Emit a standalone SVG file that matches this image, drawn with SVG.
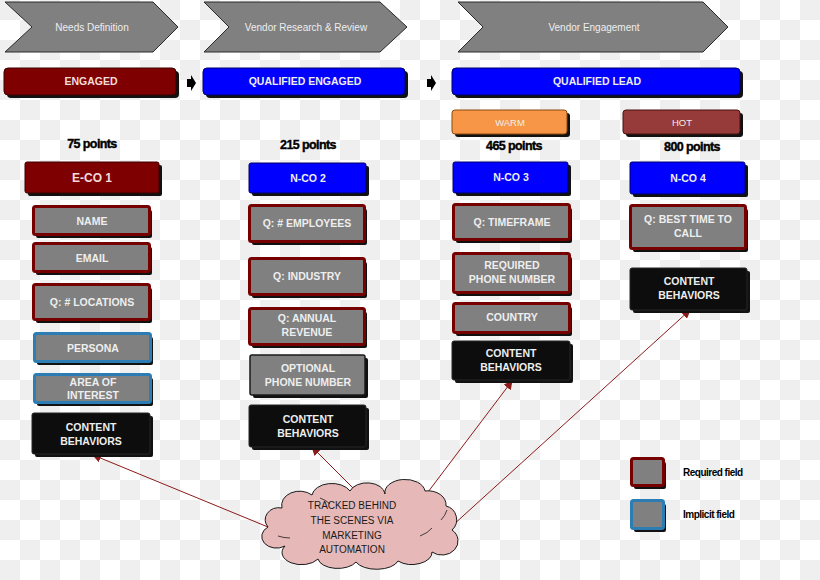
<svg xmlns="http://www.w3.org/2000/svg" width="820" height="580" viewBox="0 0 820 580">
<defs>
<pattern id="chk" width="40" height="40" patternUnits="userSpaceOnUse">
<rect width="40" height="40" fill="#ffffff"/>
<rect width="20" height="20" fill="#efefef"/>
<rect x="20" y="20" width="20" height="20" fill="#efefef"/>
</pattern>
<marker id="ah" viewBox="0 0 10 10" refX="9" refY="5" markerWidth="9" markerHeight="9" orient="auto" markerUnits="userSpaceOnUse">
<path d="M0,0 L10,5 L0,10 Z" fill="#8b1a1a"/>
</marker>
<style>
.chev{fill:#808080;stroke:#2a2a2a;stroke-width:1}
.ct{font-family:"Liberation Sans",Arial,sans-serif;font-size:10px;fill:#eeeeee;text-anchor:middle}
.sh{fill:#111111}
.lbl{font-family:"Liberation Sans",Arial,sans-serif;font-size:10.5px;font-weight:bold;fill:#eeeeee;text-anchor:middle}
.pts{font-family:"Liberation Sans",Arial,sans-serif;font-size:12.5px;font-weight:bold;fill:#000;text-anchor:middle;letter-spacing:-0.6px;stroke:#000;stroke-width:0.4px}
.req{fill:#808080;stroke:#760000;stroke-width:3}
.imp{fill:#808080;stroke:#2b7db3;stroke-width:3}
.opt{fill:#808080;stroke:#1a1a1a;stroke-width:1.5}
.cb{fill:#0d0d0d;stroke:#262626;stroke-width:1}
.mar{fill:#7f0000;stroke:#3a0000;stroke-width:1}
.blu{fill:#0000ff;stroke:#000066;stroke-width:1}
.con{stroke:#8b1a1a;stroke-width:1;fill:none;marker-end:url(#ah)}
.leg{font-family:"Liberation Sans",Arial,sans-serif;font-size:10px;font-weight:bold;fill:#000;letter-spacing:-0.5px}
.cl{font-family:"Liberation Sans",Arial,sans-serif;font-size:10px;fill:#1a1a1a;text-anchor:middle}
</style>
</defs>
<rect width="820" height="580" fill="url(#chk)"/>

<g id="stage-needs">
<path class="chev" d="M5,2 L153,2 L178,27 L153,52 L5,52 L32,27 Z"/>
<text class="ct" x="92" y="31">Needs Definition</text>
</g>
<g id="stage-research">
<path class="chev" d="M204,2 L380,2 L407,27 L380,52 L204,52 L229,27 Z"/>
<text class="ct" x="306" y="31">Vendor Research &amp; Review</text>
</g>
<g id="stage-engagement">
<path class="chev" d="M458,2 L703,2 L728,27 L703,52 L458,52 L483,27 Z"/>
<text class="ct" x="594" y="31">Vendor Engagement</text>
</g>

<g id="bar-engaged">
<rect class="sh" x="7" y="71" width="172" height="27" rx="4"/>
<rect class="mar" x="4" y="68" width="172" height="27" rx="4"/>
<text class="lbl" x="91" y="85" style="fill:#f2dcdb">ENGAGED</text>
</g>
<g id="bar-qualified-engaged">
<rect class="sh" x="206" y="71" width="202" height="27" rx="4"/>
<rect class="blu" x="203" y="68" width="202" height="27" rx="4"/>
<text class="lbl" x="305" y="85">QUALIFIED ENGAGED</text>
</g>
<g id="bar-qualified-lead">
<rect class="sh" x="455" y="71" width="288" height="27" rx="4"/>
<rect class="blu" x="452" y="68" width="288" height="27" rx="4"/>
<text class="lbl" x="597" y="85">QUALIFIED LEAD</text>
</g>

<g id="connectors">
<path d="M187,79 H191 V75 L196,83 L191,91 V87 H187 Z" fill="#000"/>
<path d="M427,79 H431 V75 L436,83 L431,91 V87 H427 Z" fill="#000"/>
<line class="con" x1="268" y1="527" x2="93" y2="455"/>
<line class="con" x1="357" y1="492" x2="312" y2="447"/>
<line class="con" x1="428" y1="492" x2="512" y2="381"/>
<line class="con" x1="452" y1="526" x2="690" y2="310"/>
</g>

<g id="col1">
<text class="pts" x="92" y="148">75 points</text>
<g id="eco1"><rect class="sh" x="28" y="165" width="134" height="31" rx="2"/><rect class="mar" x="25" y="162" width="134" height="31" rx="2"/><text class="lbl" x="92" y="182" style="font-size:12px;fill:#f2dcdb">E-CO 1</text></g>
<g id="name"><rect class="sh" x="36" y="210" width="116" height="28" rx="2"/><rect class="req" x="33.5" y="206.5" width="116" height="28" rx="2"/><text class="lbl" x="92" y="225">NAME</text></g>
<g id="email"><rect class="sh" x="36" y="247" width="116" height="28" rx="2"/><rect class="req" x="33.5" y="243.5" width="116" height="28" rx="2"/><text class="lbl" x="92" y="262">EMAIL</text></g>
<g id="locations"><rect class="sh" x="36" y="288" width="116" height="35" rx="2"/><rect class="req" x="33.5" y="284.5" width="116" height="35" rx="2"/><text class="lbl" x="92" y="306">Q: # LOCATIONS</text></g>
<g id="persona"><rect class="sh" x="37" y="337" width="116" height="28" rx="2"/><rect class="imp" x="34.5" y="333.5" width="116" height="28" rx="2"/><text class="lbl" x="93" y="352">PERSONA</text></g>
<g id="area"><rect class="sh" x="37" y="378" width="116" height="28" rx="2"/><rect class="imp" x="34.5" y="374.5" width="116" height="28" rx="2"/><text class="lbl" x="93" y="386">AREA OF</text><text class="lbl" x="93" y="399">INTEREST</text></g>
<g id="cb1"><rect class="sh" x="35" y="416" width="118" height="41" rx="2"/><rect class="cb" x="32" y="413" width="118" height="41" rx="2"/><text class="lbl" x="91" y="431">CONTENT</text><text class="lbl" x="91" y="445">BEHAVIORS</text></g>
</g>

<g id="col2">
<text class="pts" x="308" y="149">215 points</text>
<g id="nco2"><rect class="sh" x="252" y="166" width="117" height="30" rx="2"/><rect class="blu" x="249" y="163" width="117" height="30" rx="2"/><text class="lbl" x="308" y="182">N-CO 2</text></g>
<g id="employees"><rect class="sh" x="252" y="209" width="115" height="36" rx="2"/><rect class="req" x="249.5" y="205.5" width="115" height="36" rx="2"/><text class="lbl" x="307" y="227">Q: # EMPLOYEES</text></g>
<g id="industry"><rect class="sh" x="252" y="262" width="115" height="36" rx="2"/><rect class="req" x="249.5" y="258.5" width="115" height="36" rx="2"/><text class="lbl" x="307" y="280">Q: INDUSTRY</text></g>
<g id="revenue"><rect class="sh" x="252" y="312" width="115" height="36" rx="2"/><rect class="req" x="249.5" y="308.5" width="115" height="36" rx="2"/><text class="lbl" x="307" y="322">Q: ANNUAL</text><text class="lbl" x="307" y="336">REVENUE</text></g>
<g id="optphone"><rect class="sh" x="253" y="358" width="115" height="40" rx="2"/><rect class="opt" x="250" y="355" width="115" height="40" rx="2"/><text class="lbl" x="308" y="372">OPTIONAL</text><text class="lbl" x="308" y="386">PHONE NUMBER</text></g>
<g id="cb2"><rect class="sh" x="252" y="408" width="117" height="42" rx="2"/><rect class="cb" x="249" y="405" width="117" height="42" rx="2"/><text class="lbl" x="308" y="423">CONTENT</text><text class="lbl" x="308" y="437">BEHAVIORS</text></g>
</g>

<g id="col3">
<g id="warm"><rect class="sh" x="455" y="113" width="115" height="24" rx="3"/><rect x="452" y="110" width="115" height="24" rx="3" fill="#f79646" stroke="#8a4a10" stroke-width="1"/><text class="lbl" x="510" y="126" style="font-size:9.5px;font-weight:normal">WARM</text></g>
<text class="pts" x="514" y="150">465 points</text>
<g id="nco3"><rect class="sh" x="456" y="165" width="115" height="31" rx="2"/><rect class="blu" x="453" y="162" width="115" height="31" rx="2"/><text class="lbl" x="511" y="181">N-CO 3</text></g>
<g id="timeframe"><rect class="sh" x="456" y="208" width="116" height="35" rx="2"/><rect class="req" x="453.5" y="204.5" width="116" height="35" rx="2"/><text class="lbl" x="512" y="226">Q: TIMEFRAME</text></g>
<g id="reqphone"><rect class="sh" x="456" y="257" width="116" height="39" rx="2"/><rect class="req" x="453.5" y="253.5" width="116" height="39" rx="2"/><text class="lbl" x="512" y="269">REQUIRED</text><text class="lbl" x="512" y="283">PHONE NUMBER</text></g>
<g id="country"><rect class="sh" x="456" y="307" width="116" height="29" rx="2"/><rect class="req" x="453.5" y="303.5" width="116" height="29" rx="2"/><text class="lbl" x="512" y="321">COUNTRY</text></g>
<g id="cb3"><rect class="sh" x="455" y="344" width="118" height="39" rx="2"/><rect class="cb" x="452" y="341" width="118" height="39" rx="2"/><text class="lbl" x="511" y="357">CONTENT</text><text class="lbl" x="511" y="371">BEHAVIORS</text></g>
</g>

<g id="col4">
<g id="hot"><rect class="sh" x="626" y="113" width="117" height="24" rx="3"/><rect x="623" y="110" width="117" height="24" rx="3" fill="#963a3a" stroke="#4a1010" stroke-width="1"/><text class="lbl" x="682" y="126" style="font-size:9.5px;font-weight:normal">HOT</text></g>
<text class="pts" x="692" y="151">800 points</text>
<g id="nco4"><rect class="sh" x="633" y="165" width="115" height="32" rx="2"/><rect class="blu" x="630" y="162" width="115" height="32" rx="2"/><text class="lbl" x="688" y="182">N-CO 4</text></g>
<g id="besttime"><rect class="sh" x="633" y="209" width="115" height="43" rx="2"/><rect class="req" x="630.5" y="205.5" width="115" height="43" rx="2"/><text class="lbl" x="688" y="223">Q: BEST TIME TO</text><text class="lbl" x="688" y="237">CALL</text></g>
<g id="cb4"><rect class="sh" x="633" y="271" width="117" height="42" rx="2"/><rect class="cb" x="630" y="268" width="117" height="42" rx="2"/><text class="lbl" x="689" y="285">CONTENT</text><text class="lbl" x="689" y="299">BEHAVIORS</text></g>
</g>

<g id="legend">
<rect class="sh" x="634" y="462" width="32" height="27" rx="2"/>
<rect class="req" x="631.5" y="458.5" width="32" height="27" rx="2"/>
<text class="leg" x="683" y="476">Required field</text>
<rect class="sh" x="634" y="504" width="32" height="28" rx="2"/>
<rect class="imp" x="631.5" y="500.5" width="32" height="28" rx="2"/>
<text class="leg" x="683" y="518">Implicit field</text>
</g>

<g id="cloud">
<path d="M285,546 A14,11 0 0 1 268,527 A14,12 0 0 1 282,508 A18,14 0 0 1 312,495 A20,13 0 0 1 350,491 A18,12 0 0 1 385,494 A20,13 0 0 1 425,491 A18,14 0 0 1 446,506 A14,14 0 0 1 452,530 A16,14 0 0 1 432,552 A20,12 0 0 1 398,561 A22,11 0 0 1 356,562 A20,11 0 0 1 318,559 A16,10 0 0 1 285,546 Z" fill="#e6b9b8" stroke="#1a1a1a" stroke-width="1"/>
<path d="M278,536 Q284,538 290,538 M420,536 Q428,533 432,528 M441,520 Q445,516 447,510 M320,498 Q326,500 330,504" fill="none" stroke="#1a1a1a" stroke-width="0.8"/>
<text class="cl" x="352" y="509">TRACKED BEHIND</text>
<text class="cl" x="352" y="524">THE SCENES VIA</text>
<text class="cl" x="352" y="539">MARKETING</text>
<text class="cl" x="352" y="553">AUTOMATION</text>
</g>
</svg>
